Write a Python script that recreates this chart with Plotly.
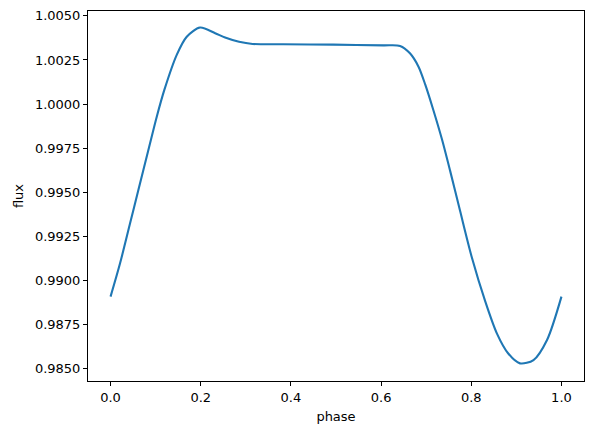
import plotly.graph_objects as go

phase = [0.0, 0.0211, 0.0433, 0.0617, 0.0839, 0.1025, 0.1193, 0.1468, 0.169, 0.1985,
         0.232, 0.254, 0.285, 0.315, 0.383, 0.494, 0.605, 0.642, 0.664, 0.683,
         0.698, 0.716, 0.735, 0.753, 0.775, 0.801, 0.831, 0.857, 0.882, 0.908,
         0.938, 0.968, 1.0]
flux = [0.98907, 0.99096, 0.99323, 0.99512, 0.99739, 0.99928, 1.00080, 1.00279, 1.00382, 1.00434,
        1.00402, 1.00377, 1.00353, 1.00341, 1.00339, 1.00337, 1.00333, 1.00330, 1.00288, 1.00212,
        1.00110, 0.99965, 0.99800, 0.99622, 0.99395, 0.99132, 0.98880, 0.98697, 0.98584, 0.98528,
        0.98547, 0.98661, 0.98907]

x_ticks = [0.0, 0.2, 0.4, 0.6, 0.8, 1.0]
y_ticks = [0.9850, 0.9875, 0.9900, 0.9925, 0.9950, 0.9975, 1.0000, 1.0025, 1.0050]

fig = go.Figure()
fig.add_trace(go.Scatter(x=phase, y=flux, mode="lines",
                         line=dict(color="#1f77b4", width=2.1, shape="spline", smoothing=0.8)))

axis_common = dict(showgrid=False, zeroline=False, showline=True, linecolor="black",
                   linewidth=1, mirror=True, ticks="outside", ticklen=4, tickwidth=1,
                   tickcolor="black", tickfont=dict(family="DejaVu Sans", size=13, color="black"))

fig.update_xaxes(range=[-0.05, 1.05], tickvals=x_ticks, tickformat=".1f",
                 title=dict(text="phase", font=dict(family="DejaVu Sans", size=13, color="black"), standoff=8),
                 **axis_common)
fig.update_yaxes(range=[0.98428, 1.00528], tickvals=y_ticks, tickformat=".4f",
                 title=dict(text="flux", font=dict(family="DejaVu Sans", size=13, color="black"), standoff=8),
                 **axis_common)

fig.update_layout(width=593, height=434, margin=dict(l=88, r=9, t=11, b=53),
                  paper_bgcolor="white", plot_bgcolor="white", showlegend=False)

fig.write_html("out.html")
